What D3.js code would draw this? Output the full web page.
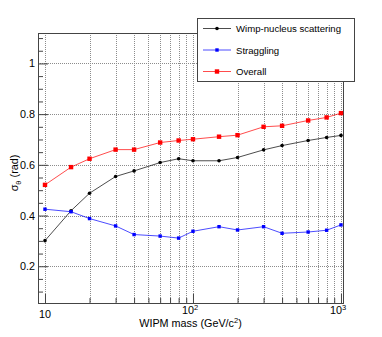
<!DOCTYPE html>
<html lang="en">
<head>
  <meta charset="UTF-8">
  <title>Angular resolution vs WIMP mass</title>
  <script src="https://d3js.org/d3.v7.min.js"></script>
  <style>
    body { margin: 0; background: #fff; }
    text { font-family: "Liberation Sans", Arial, sans-serif; fill: #000; }
    .grid line { stroke: #8c8c8c; stroke-width: 1; stroke-dasharray: 1,1; }
    .axis path { display: none; }
    .axis line { stroke: #444; }
  </style>
</head>
<body>

<svg id="chart" width="382" height="337"></svg>

<script>
  // values
  var mass = [10, 15, 20, 30, 40, 60, 80, 100, 150, 200, 300, 400, 600, 800, 1000];
  var scattering = [0.301, 0.419, 0.488, 0.554, 0.576, 0.609, 0.624, 0.616, 0.616, 0.629, 0.659, 0.676, 0.696, 0.708, 0.716];
  var straggling = [0.425, 0.415, 0.388, 0.359, 0.325, 0.319, 0.311, 0.338, 0.356, 0.343, 0.356, 0.330, 0.335, 0.342, 0.363];
  var overall = [0.521, 0.591, 0.624, 0.660, 0.660, 0.688, 0.696, 0.701, 0.711, 0.717, 0.750, 0.754, 0.775, 0.787, 0.804];

  var seriesNames = ['Wimp-nucleus scattering', 'Straggling', 'Overall'];
  var seriesColors = ['#000000', '#0000ff', '#ff0000'];
  var seriesMarkers = ['circle', 'square', 'square'];

  var yTicks = [0.2, 0.4, 0.6, 0.8, 1];
  var yMinor = [0.1, 0.15, 0.25, 0.3, 0.35, 0.45, 0.5, 0.55, 0.65, 0.7, 0.75, 0.85, 0.9, 0.95, 1.05, 1.1];
  var xDecades = [10, 100, 1000];
  var xMinor = [20, 30, 40, 50, 60, 70, 80, 90, 200, 300, 400, 500, 600, 700, 800, 900];

  // frame edges (note: "top" is reserved on window)
  var fLeft = 38, fRight = 343, fTop = 33, fBottom = 303;
  var svg = d3.select('#chart');

  var x = d3.scaleLog().domain([8.97, 1032]).range([fLeft, fRight]);
  var y = d3.scaleLinear().domain([0.055, 1.12]).range([fBottom, fTop]);

  // grid
  var grid = svg.append('g').attr('class', 'grid');
  grid.selectAll('.gx')
    .data(xDecades.concat(xMinor))
    .enter().append('line')
    .attr('x1', d => Math.round(x(d)) + 0.5).attr('x2', d => Math.round(x(d)) + 0.5)
    .attr('y1', fTop).attr('y2', fBottom);
  grid.selectAll('.gy')
    .data(yTicks)
    .enter().append('line')
    .attr('x1', fLeft).attr('x2', fRight)
    .attr('y1', d => Math.round(y(d)) + 0.5).attr('y2', d => Math.round(y(d)) + 0.5);

  // ticks (drawn inward)
  svg.append('g').attr('class', 'axis')
    .attr('transform', 'translate(' + fLeft + ',0)')
    .call(d3.axisLeft(y).tickValues(yTicks).tickSize(-10).tickFormat(''));
  svg.append('g').attr('class', 'axis')
    .attr('transform', 'translate(' + fLeft + ',0)')
    .call(d3.axisLeft(y).tickValues(yMinor).tickSize(-5).tickFormat(''));
  svg.append('g').attr('class', 'axis')
    .attr('transform', 'translate(0,' + fBottom + ')')
    .call(d3.axisBottom(x).tickValues(xDecades).tickSize(-9).tickFormat(''));
  svg.append('g').attr('class', 'axis')
    .attr('transform', 'translate(0,' + fBottom + ')')
    .call(d3.axisBottom(x).tickValues(xMinor).tickSize(-5).tickFormat(''));

  // frame
  svg.append('rect')
    .attr('x', fLeft + 0.5).attr('y', fTop + 0.5)
    .attr('width', fRight - fLeft).attr('height', fBottom - fTop)
    .attr('fill', 'none').attr('stroke', '#444').attr('stroke-width', 1);

  // tick labels
  svg.selectAll('.ylab')
    .data(yTicks)
    .enter().append('text')
    .attr('x', 35).attr('y', d => y(d) + 4)
    .attr('text-anchor', 'end')
    .style('font-size', '10.8px')
    .text(d => d === 1 ? '1' : d.toFixed(1));

  xDecades.forEach(function (d) {
    var exp = Math.round(Math.log10(d));
    var t = svg.append('text')
      .attr('x', x(d) + (exp > 1 ? -3 : 0))
      .attr('y', exp > 1 ? 314 : 318)
      .attr('text-anchor', 'middle')
      .style('font-size', '10.8px');
    if (exp === 1) {
      t.text('10');
    } else {
      t.append('tspan').text('10');
      t.append('tspan').attr('dy', -4).style('font-size', '7.5px').text(exp);
    }
  });

  // axis titles
  var xt = svg.append('text')
    .attr('x', 190.5).attr('y', 327)
    .attr('text-anchor', 'middle')
    .style('font-size', '10.8px');
  xt.append('tspan').text('WIPM mass (GeV/c');
  xt.append('tspan').attr('dy', -4).style('font-size', '7.5px').text('2');
  xt.append('tspan').attr('dy', 4).text(')');

  var yt = svg.append('text')
    .attr('transform', 'translate(18,173) rotate(-90)')
    .attr('text-anchor', 'middle')
    .style('font-size', '10.8px');
  yt.append('tspan').text('σ');
  yt.append('tspan').attr('dy', 3).style('font-size', '7.5px').text('θ');
  yt.append('tspan').attr('dy', -3).text(' (rad)');

  // series
  var allSeries = [scattering, straggling, overall];
  var line = d3.line()
    .x(d => x(d[0]))
    .y(d => y(d[1]));

  function drawMarker(g, kind, cx, cy, color) {
    if (kind === 'circle') {
      g.append('circle').attr('cx', cx).attr('cy', cy).attr('r', 1.8).attr('fill', color);
    } else {
      var s = color === '#ff0000' ? 4.4 : 3.4;
      g.append('rect').attr('x', cx - s / 2).attr('y', cy - s / 2)
        .attr('width', s).attr('height', s).attr('fill', color);
    }
  }

  allSeries.forEach(function (vals, i) {
    var pts = mass.map((m, j) => [m, vals[j]]);
    var g = svg.append('g');
    g.append('path')
      .attr('d', line(pts))
      .attr('fill', 'none')
      .attr('stroke', seriesColors[i])
      .attr('stroke-opacity', 0.7)
      .attr('stroke-width', 1);
    pts.forEach(p => drawMarker(g, seriesMarkers[i], x(p[0]), y(p[1]), seriesColors[i]));
  });

  // legend
  var lg = svg.append('g');
  lg.append('rect')
    .attr('x', 197.5).attr('y', 18.5).attr('width', 157).attr('height', 63)
    .attr('fill', '#fff').attr('stroke', '#444').attr('stroke-width', 1);
  var rowY = [28.5, 50, 71.5];
  seriesNames.forEach(function (name, i) {
    lg.append('line')
      .attr('x1', 203).attr('x2', 231)
      .attr('y1', rowY[i]).attr('y2', rowY[i])
      .attr('stroke', seriesColors[i]).attr('stroke-opacity', 0.7);
    drawMarker(lg, seriesMarkers[i], 217, rowY[i], seriesColors[i]);
    lg.append('text')
      .attr('x', 236).attr('y', rowY[i] + 3.5)
      .style('font-size', '9.6px')
      .text(name);
  });
</script>

</body>
</html>
